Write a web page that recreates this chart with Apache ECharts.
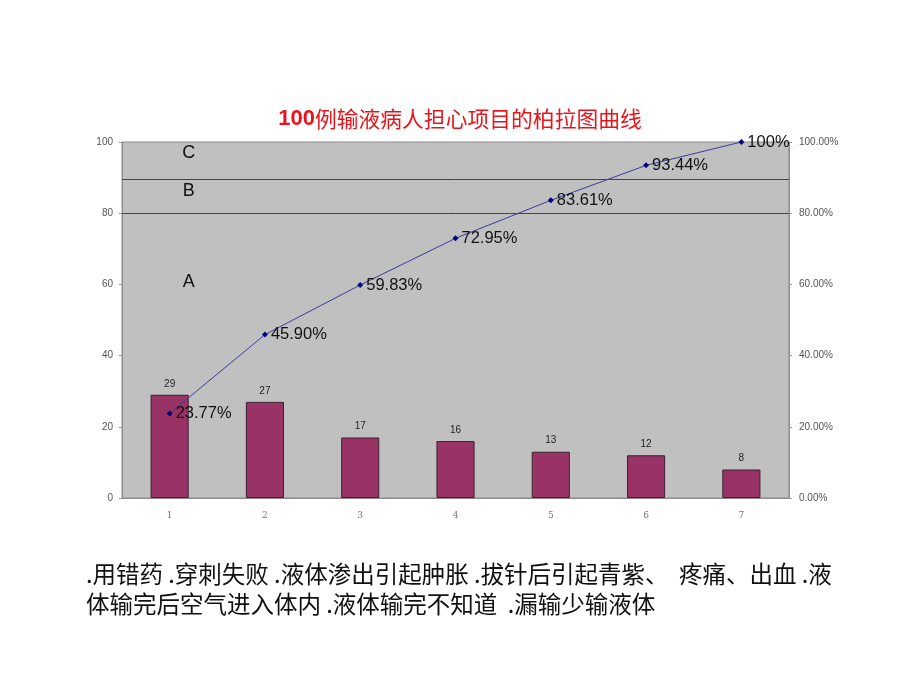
<!DOCTYPE html>
<html>
<head>
<meta charset="utf-8">
<script src="https://cdn.jsdelivr.net/npm/echarts@6/dist/echarts.min.js"></script>
<style>
  html, body { margin: 0; padding: 0; background: #fff; }
  #chart { width: 920px; height: 690px; }
</style>
</head>
<body>
<div id="chart"></div>
<script>
// data
const categories = ['1', '2', '3', '4', '5', '6', '7'];
const counts = [29, 27, 17, 16, 13, 12, 8];
const cumPercent = [23.77, 45.90, 59.83, 72.95, 83.61, 93.44, 100];
const cumLabels = ['23.77%', '45.90%', '59.83%', '72.95%', '83.61%', '93.44%', '100%'];
const leftTicks = [0, 20, 40, 60, 80, 100];
const zoneLines = [80, 89.4];
const zoneLetters = [['C', 97], ['B', 86.2], ['A', 60.7]];
const titleNum = '100';
const titleText = '例输液病人担心项目的柏拉图曲线';
const noteLines = [
  '.用错药 .穿刺失败 .液体渗出引起肿胀 .拔针后引起青紫、  疼痛、出血 .液',
  '体输完后空气进入体内 .液体输完不知道  .漏输少输液体'
];

var myChart = echarts.init(document.getElementById('chart'));

option = {
  animation: false,
  grid: {
    left: 122,
    right: 131,
    top: 142,
    bottom: 192,
    show: true,
    backgroundColor: '#c0c0c0',
    borderColor: '#8c8c8c',
    borderWidth: 1
  },
  graphic: [
    {
      type: 'text',
      left: 'center',
      top: 108,
      style: {
        text: '{n|' + titleNum + '}{t|' + titleText + '}',
        rich: {
          n: { fill: '#e8141b', font: 'bold 22px "Liberation Sans"' },
          t: { fill: '#e8141b', font: '21.8px "Noto Sans CJK SC"' }
        }
      }
    },
    {
      type: 'text',
      left: 86,
      top: 562,
      style: {
        text: noteLines[0],
        fill: '#111',
        font: '23.5px "Noto Sans CJK SC"'
      }
    },
    {
      type: 'text',
      left: 86,
      top: 592,
      style: {
        text: noteLines[1],
        fill: '#111',
        font: '23.5px "Noto Sans CJK SC"'
      }
    }
  ],
  xAxis: {
    type: 'category',
    data: categories,
    axisLine: { lineStyle: { color: '#8c8c8c' } },
    axisTick: { lineStyle: { color: '#999' }, length: 3, inside: true },
    axisLabel: {
      color: '#777',
      fontFamily: 'DejaVu Serif',
      fontSize: 9,
      margin: 13
    }
  },
  yAxis: [
    {
      type: 'value',
      min: 0,
      max: 100,
      interval: 20,
      splitLine: { show: false },
      axisLine: { show: true, lineStyle: { color: '#8c8c8c' } },
      axisTick: { show: true, length: 3, lineStyle: { color: '#999' } },
      axisLabel: {
        color: '#555',
        fontSize: 10,
        fontFamily: 'Liberation Sans',
        margin: 9,
        formatter: function (v) { return leftTicks.indexOf(v) >= 0 ? String(v) : ''; }
      }
    },
    {
      type: 'value',
      min: 0,
      max: 1,
      interval: 0.2,
      splitLine: { show: false },
      axisLine: { show: true, lineStyle: { color: '#8c8c8c' } },
      axisTick: { show: true, length: 3, lineStyle: { color: '#999' } },
      axisLabel: {
        color: '#555',
        fontSize: 10,
        fontFamily: 'Liberation Sans',
        margin: 10,
        formatter: function (v) { return (v * 100).toFixed(2) + '%'; }
      }
    }
  ],
  series: [
    {
      name: 'count',
      type: 'bar',
      data: counts,
      barWidth: '40%',
      itemStyle: {
        color: '#993366',
        borderColor: '#3a2030',
        borderWidth: 1
      },
      label: {
        show: true,
        position: 'top',
        color: '#222',
        fontSize: 10,
        fontFamily: 'Liberation Sans',
        distance: 6
      },
      markLine: {
        silent: true,
        symbol: 'none',
        label: { show: false },
        lineStyle: { color: '#444', type: 'solid', width: 1 },
        data: zoneLines.map(function (v) { return { yAxis: v }; })
      },
      markPoint: {
        silent: true,
        symbol: 'circle',
        symbolSize: 0,
        label: {
          show: true,
          color: '#111',
          fontSize: 18,
          fontFamily: 'Liberation Sans',
          offset: [19, 0],
          formatter: function (p) { return p.name; }
        },
        data: zoneLetters.map(function (d) {
          return { name: d[0], coord: [0, d[1]] };
        })
      }
    },
    {
      name: 'cum',
      type: 'line',
      yAxisIndex: 0,
      data: cumPercent,
      symbol: 'diamond',
      symbolSize: 6,
      itemStyle: { color: '#000080' },
      lineStyle: { color: '#3b3b9e', width: 1 },
      label: {
        show: true,
        position: 'right',
        distance: 3,
        color: '#111',
        fontSize: 16.5,
        fontFamily: 'Liberation Sans',
        formatter: function (p) { return cumLabels[p.dataIndex]; }
      },
      z: 5
    }
  ]
};

myChart.setOption(option);
</script>
</body>
</html>
